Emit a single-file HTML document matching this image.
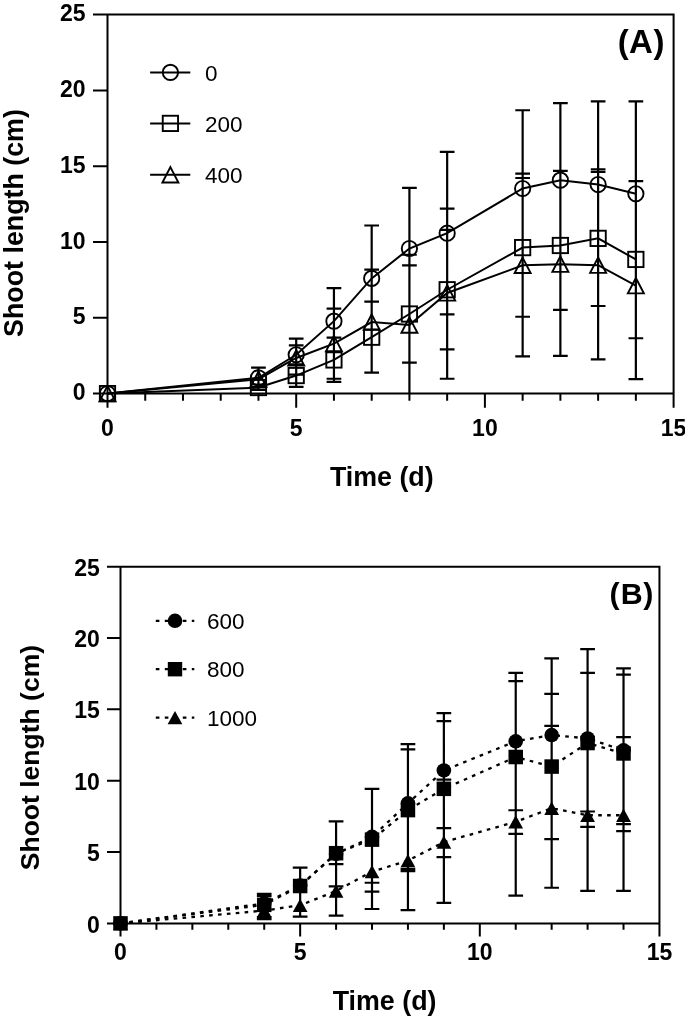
<!DOCTYPE html>
<html><head><meta charset="utf-8"><style>
html,body{margin:0;padding:0;background:#fff;}
body{width:685px;height:1020px;overflow:hidden;}
svg{display:block;filter:grayscale(1);}
text{font-family:"Liberation Sans",sans-serif;fill:#000;}
.tk{font-size:23px;font-weight:bold;}
.lg{font-size:22.5px;}
.ti{font-size:26.8px;font-weight:bold;}
.pl{font-size:33px;font-weight:bold;}
</style></head><body>
<svg width="685" height="1020" viewBox="0 0 685 1020">
<path d="M93,14.6H674.6M107.5,13.6V407.8M93,393.6H673.6M673.6,13.6V407.8M93,317.8H107.5M93,242H107.5M93,166.2H107.5M93,90.4H107.5M145.24,393.6v7.2M182.98,393.6v7.2M220.72,393.6v7.2M258.46,393.6v7.2M296.2,393.6v14.2M333.94,393.6v7.2M371.68,393.6v7.2M409.42,393.6v7.2M447.16,393.6v7.2M484.9,393.6v14.2M522.64,393.6v7.2M560.38,393.6v7.2M598.12,393.6v7.2M635.86,393.6v7.2" stroke="#000" stroke-width="2.0" fill="none"/>
<path d="M258.46,367.68V389.81M251.11,367.68h14.7M251.11,384.5h14.7M251.11,387.23h14.7M251.11,389.81h14.7M296.2,338.57V386.78M288.85,338.57h14.7M288.85,345.39h14.7M288.85,364.34h14.7M288.85,374.65h14.7M288.85,386.78h14.7M333.94,288.09V381.93M326.59,288.09h14.7M326.59,308.7h14.7M326.59,337.66h14.7M326.59,378.74h14.7M326.59,381.93h14.7M371.68,225.48V372.53M364.33,225.48h14.7M364.33,269.59h14.7M364.33,301.58h14.7M364.33,372.53h14.7M409.42,187.88V393.6M402.07,187.88h14.7M402.07,254.73h14.7M402.07,265.35h14.7M402.07,362.67h14.7M447.16,151.95V378.74M439.81,151.95h14.7M439.81,208.65h14.7M439.81,229.87h14.7M439.81,314.46h14.7M439.81,349.33h14.7M439.81,378.74h14.7M522.64,110.26V356.46M515.29,110.26h14.7M515.29,173.63h14.7M515.29,178.02h14.7M515.29,316.74h14.7M515.29,356.46h14.7M560.38,103.13V355.85M553.03,103.13h14.7M553.03,170.9h14.7M553.03,309.92h14.7M553.03,355.85h14.7M598.12,101.32V359.34M590.77,101.32h14.7M590.77,169.23h14.7M590.77,171.96h14.7M590.77,305.98h14.7M590.77,359.34h14.7M635.86,101.32V379.05M628.51,101.32h14.7M628.51,181.21h14.7M628.51,338.27h14.7M628.51,379.05h14.7" stroke="#000" stroke-width="2.2" fill="none"/>
<polyline points="107.5,393.6 258.46,377.83 296.2,354.79 333.94,321.14 371.68,278.38 409.42,248.52 447.16,233.21 522.64,188.49 560.38,180.15 598.12,184.54 635.86,193.79" stroke="#000" stroke-width="2.0" fill="none"/>
<polyline points="107.5,393.6 258.46,387.54 296.2,375.56 333.94,359.94 371.68,337.2 409.42,314.01 447.16,289.75 522.64,247.61 560.38,245.49 598.12,238.36 635.86,259.43" stroke="#000" stroke-width="2.0" fill="none"/>
<polyline points="107.5,393.6 258.46,379.2 296.2,357.97 333.94,343.57 371.68,322.04 409.42,325.08 447.16,292.94 522.64,265.35 560.38,264.13 598.12,265.19 635.86,285.66" stroke="#000" stroke-width="2.0" fill="none"/>
<circle cx="107.5" cy="393.6" r="7.65" fill="none" stroke="#000" stroke-width="1.9"/>
<circle cx="258.46" cy="377.83" r="7.65" fill="none" stroke="#000" stroke-width="1.9"/>
<circle cx="296.2" cy="354.79" r="7.65" fill="none" stroke="#000" stroke-width="1.9"/>
<circle cx="333.94" cy="321.14" r="7.65" fill="none" stroke="#000" stroke-width="1.9"/>
<circle cx="371.68" cy="278.38" r="7.65" fill="none" stroke="#000" stroke-width="1.9"/>
<circle cx="409.42" cy="248.52" r="7.65" fill="none" stroke="#000" stroke-width="1.9"/>
<circle cx="447.16" cy="233.21" r="7.65" fill="none" stroke="#000" stroke-width="1.9"/>
<circle cx="522.64" cy="188.49" r="7.65" fill="none" stroke="#000" stroke-width="1.9"/>
<circle cx="560.38" cy="180.15" r="7.65" fill="none" stroke="#000" stroke-width="1.9"/>
<circle cx="598.12" cy="184.54" r="7.65" fill="none" stroke="#000" stroke-width="1.9"/>
<circle cx="635.86" cy="193.79" r="7.65" fill="none" stroke="#000" stroke-width="1.9"/>
<rect x="99.85" y="385.95" width="15.3" height="15.3" fill="none" stroke="#000" stroke-width="1.9"/>
<rect x="250.81" y="379.89" width="15.3" height="15.3" fill="none" stroke="#000" stroke-width="1.9"/>
<rect x="288.55" y="367.91" width="15.3" height="15.3" fill="none" stroke="#000" stroke-width="1.9"/>
<rect x="326.29" y="352.29" width="15.3" height="15.3" fill="none" stroke="#000" stroke-width="1.9"/>
<rect x="364.03" y="329.55" width="15.3" height="15.3" fill="none" stroke="#000" stroke-width="1.9"/>
<rect x="401.77" y="306.36" width="15.3" height="15.3" fill="none" stroke="#000" stroke-width="1.9"/>
<rect x="439.51" y="282.1" width="15.3" height="15.3" fill="none" stroke="#000" stroke-width="1.9"/>
<rect x="514.99" y="239.96" width="15.3" height="15.3" fill="none" stroke="#000" stroke-width="1.9"/>
<rect x="552.73" y="237.84" width="15.3" height="15.3" fill="none" stroke="#000" stroke-width="1.9"/>
<rect x="590.47" y="230.71" width="15.3" height="15.3" fill="none" stroke="#000" stroke-width="1.9"/>
<rect x="628.21" y="251.78" width="15.3" height="15.3" fill="none" stroke="#000" stroke-width="1.9"/>
<path d="M107.5,385.9L115.5,401.3L99.5,401.3Z" fill="none" stroke="#000" stroke-width="1.9" stroke-linejoin="miter"/>
<path d="M258.46,371.5L266.46,386.9L250.46,386.9Z" fill="none" stroke="#000" stroke-width="1.9" stroke-linejoin="miter"/>
<path d="M296.2,350.27L304.2,365.67L288.2,365.67Z" fill="none" stroke="#000" stroke-width="1.9" stroke-linejoin="miter"/>
<path d="M333.94,335.87L341.94,351.27L325.94,351.27Z" fill="none" stroke="#000" stroke-width="1.9" stroke-linejoin="miter"/>
<path d="M371.68,314.34L379.68,329.74L363.68,329.74Z" fill="none" stroke="#000" stroke-width="1.9" stroke-linejoin="miter"/>
<path d="M409.42,317.38L417.42,332.78L401.42,332.78Z" fill="none" stroke="#000" stroke-width="1.9" stroke-linejoin="miter"/>
<path d="M447.16,285.24L455.16,300.64L439.16,300.64Z" fill="none" stroke="#000" stroke-width="1.9" stroke-linejoin="miter"/>
<path d="M522.64,257.65L530.64,273.05L514.64,273.05Z" fill="none" stroke="#000" stroke-width="1.9" stroke-linejoin="miter"/>
<path d="M560.38,256.43L568.38,271.83L552.38,271.83Z" fill="none" stroke="#000" stroke-width="1.9" stroke-linejoin="miter"/>
<path d="M598.12,257.49L606.12,272.89L590.12,272.89Z" fill="none" stroke="#000" stroke-width="1.9" stroke-linejoin="miter"/>
<path d="M635.86,277.96L643.86,293.36L627.86,293.36Z" fill="none" stroke="#000" stroke-width="1.9" stroke-linejoin="miter"/>
<path d="M107,566.65H660.45M120.5,565.65V936.4M107,923.4H659.45M659.45,565.65V936.4M107,852.05H120.5M107,780.7H120.5M107,709.35H120.5M107,638H120.5M156.43,923.4v6.3M192.36,923.4v6.3M228.29,923.4v6.3M264.22,923.4v6.3M300.15,923.4v13M336.08,923.4v6.3M372.01,923.4v6.3M407.94,923.4v6.3M443.87,923.4v6.3M479.8,923.4v13M515.73,923.4v6.3M551.66,923.4v6.3M587.59,923.4v6.3M623.52,923.4v6.3" stroke="#000" stroke-width="2.0" fill="none"/>
<path d="M264.22,893.86V919.12M256.87,893.86h14.7M256.87,895.86h14.7M256.87,916.98h14.7M256.87,919.12h14.7M300.15,867.6V916.69M292.8,867.6h14.7M292.8,916.69h14.7M336.08,821.37V915.55M328.73,821.37h14.7M328.73,864.04h14.7M328.73,886.3h14.7M328.73,915.55h14.7M372.01,788.83V908.99M364.66,788.83h14.7M364.66,882.73h14.7M364.66,891.72h14.7M364.66,908.99h14.7M407.94,744.03V910.13M400.59,744.03h14.7M400.59,749.31h14.7M400.59,868.89h14.7M400.59,871.17h14.7M400.59,910.13h14.7M443.87,713.06V902.85M436.52,713.06h14.7M436.52,721.19h14.7M436.52,779.56h14.7M436.52,828.08h14.7M436.52,857.19h14.7M436.52,902.85h14.7M515.73,672.96V895.57M508.38,672.96h14.7M508.38,681.1h14.7M508.38,810.24h14.7M508.38,833.93h14.7M508.38,895.57h14.7M551.66,658.41V887.73M544.31,658.41h14.7M544.31,693.94h14.7M544.31,725.9h14.7M544.31,839.06h14.7M544.31,887.73h14.7M587.59,649.13V890.86M580.24,649.13h14.7M580.24,672.82h14.7M580.24,811.52h14.7M580.24,826.79h14.7M580.24,890.86h14.7M623.52,668.4V890.86M616.17,668.4h14.7M616.17,674.67h14.7M616.17,737.18h14.7M616.17,824.08h14.7M616.17,831.22h14.7M616.17,890.86h14.7" stroke="#000" stroke-width="2.2" fill="none"/>
<polyline points="120.5,923.4 264.22,903.42 300.15,885.58 336.08,853.91 372.01,836.92 407.94,803.39 443.87,770.43 515.73,741.31 551.66,735.04 587.59,738.46 623.52,750.3" stroke="#000" stroke-width="2.3" fill="none" stroke-dasharray="3.6 5.3"/>
<polyline points="120.5,923.4 264.22,904.85 300.15,886.01 336.08,853.19 372.01,839.64 407.94,810.1 443.87,788.83 515.73,757.01 551.66,766.57 587.59,743.03 623.52,753.44" stroke="#000" stroke-width="2.3" fill="none" stroke-dasharray="3.6 5.3"/>
<polyline points="120.5,923.4 264.22,910.56 300.15,905.28 336.08,891.01 372.01,871.6 407.94,860.61 443.87,842.06 515.73,821.8 551.66,808.24 587.59,815.23 623.52,815.23" stroke="#000" stroke-width="2.3" fill="none" stroke-dasharray="3.6 5.3"/>
<circle cx="120.5" cy="923.4" r="7.3" fill="#000"/>
<circle cx="264.22" cy="903.42" r="7.3" fill="#000"/>
<circle cx="300.15" cy="885.58" r="7.3" fill="#000"/>
<circle cx="336.08" cy="853.91" r="7.3" fill="#000"/>
<circle cx="372.01" cy="836.92" r="7.3" fill="#000"/>
<circle cx="407.94" cy="803.39" r="7.3" fill="#000"/>
<circle cx="443.87" cy="770.43" r="7.3" fill="#000"/>
<circle cx="515.73" cy="741.31" r="7.3" fill="#000"/>
<circle cx="551.66" cy="735.04" r="7.3" fill="#000"/>
<circle cx="587.59" cy="738.46" r="7.3" fill="#000"/>
<circle cx="623.52" cy="750.3" r="7.3" fill="#000"/>
<rect x="113.25" y="916.15" width="14.5" height="14.5" fill="#000"/>
<rect x="256.97" y="897.6" width="14.5" height="14.5" fill="#000"/>
<rect x="292.9" y="878.76" width="14.5" height="14.5" fill="#000"/>
<rect x="328.83" y="845.94" width="14.5" height="14.5" fill="#000"/>
<rect x="364.76" y="832.39" width="14.5" height="14.5" fill="#000"/>
<rect x="400.69" y="802.85" width="14.5" height="14.5" fill="#000"/>
<rect x="436.62" y="781.58" width="14.5" height="14.5" fill="#000"/>
<rect x="508.48" y="749.76" width="14.5" height="14.5" fill="#000"/>
<rect x="544.41" y="759.32" width="14.5" height="14.5" fill="#000"/>
<rect x="580.34" y="735.78" width="14.5" height="14.5" fill="#000"/>
<rect x="616.27" y="746.19" width="14.5" height="14.5" fill="#000"/>
<path d="M120.5,916.75L127.85,930.05L113.15,930.05Z" fill="#000"/>
<path d="M264.22,903.91L271.57,917.21L256.87,917.21Z" fill="#000"/>
<path d="M300.15,898.63L307.5,911.93L292.8,911.93Z" fill="#000"/>
<path d="M336.08,884.36L343.43,897.66L328.73,897.66Z" fill="#000"/>
<path d="M372.01,864.95L379.36,878.25L364.66,878.25Z" fill="#000"/>
<path d="M407.94,853.96L415.29,867.26L400.59,867.26Z" fill="#000"/>
<path d="M443.87,835.41L451.22,848.71L436.52,848.71Z" fill="#000"/>
<path d="M515.73,815.15L523.08,828.45L508.38,828.45Z" fill="#000"/>
<path d="M551.66,801.59L559.01,814.89L544.31,814.89Z" fill="#000"/>
<path d="M587.59,808.58L594.94,821.88L580.24,821.88Z" fill="#000"/>
<path d="M623.52,808.58L630.87,821.88L616.17,821.88Z" fill="#000"/>
<path d="M150.1,72.4H190.3" stroke="#000" stroke-width="2.0"/>
<circle cx="170.4" cy="72.4" r="7.65" fill="none" stroke="#000" stroke-width="1.9"/>
<text x="205" y="80.9" class="lg">0</text>
<path d="M150.1,123.4H190.3" stroke="#000" stroke-width="2.0"/>
<rect x="162.75" y="115.75" width="15.3" height="15.3" fill="none" stroke="#000" stroke-width="1.9"/>
<text x="205" y="131.9" class="lg">200</text>
<path d="M150.1,174.8H190.3" stroke="#000" stroke-width="2.0"/>
<path d="M170.4,167.1L178.4,182.5L162.4,182.5Z" fill="none" stroke="#000" stroke-width="1.9" stroke-linejoin="miter"/>
<text x="205" y="183.3" class="lg">400</text>
<path d="M155.8,620.8H194.3" stroke="#000" stroke-width="2.2" stroke-dasharray="3.6 5.4"/>
<circle cx="175" cy="620.8" r="7.3" fill="#000"/>
<text x="207" y="628.7" class="lg">600</text>
<path d="M155.8,669.2H194.3" stroke="#000" stroke-width="2.2" stroke-dasharray="3.6 5.4"/>
<rect x="167.8" y="662" width="14.4" height="14.4" fill="#000"/>
<text x="207" y="677.1" class="lg">800</text>
<path d="M155.8,717.6H194.3" stroke="#000" stroke-width="2.2" stroke-dasharray="3.6 5.4"/>
<path d="M175,710.95L182.35,724.25L167.65,724.25Z" fill="#000"/>
<text x="207" y="725.5" class="lg">1000</text>
<text x="85.6" y="400.1" class="tk" text-anchor="end">0</text>
<text x="99.8" y="932.5" class="tk" text-anchor="end">0</text>
<text x="85.6" y="324.3" class="tk" text-anchor="end">5</text>
<text x="99.8" y="861.15" class="tk" text-anchor="end">5</text>
<text x="85.6" y="248.5" class="tk" text-anchor="end">10</text>
<text x="99.8" y="789.8" class="tk" text-anchor="end">10</text>
<text x="85.6" y="172.7" class="tk" text-anchor="end">15</text>
<text x="99.8" y="718.45" class="tk" text-anchor="end">15</text>
<text x="85.6" y="96.9" class="tk" text-anchor="end">20</text>
<text x="99.8" y="647.1" class="tk" text-anchor="end">20</text>
<text x="85.6" y="21.1" class="tk" text-anchor="end">25</text>
<text x="99.8" y="575.75" class="tk" text-anchor="end">25</text>
<text x="107.5" y="435.8" class="tk" text-anchor="middle">0</text>
<text x="120.5" y="960.3" class="tk" text-anchor="middle">0</text>
<text x="296.2" y="435.8" class="tk" text-anchor="middle">5</text>
<text x="300.15" y="960.3" class="tk" text-anchor="middle">5</text>
<text x="484.9" y="435.8" class="tk" text-anchor="middle">10</text>
<text x="479.8" y="960.3" class="tk" text-anchor="middle">10</text>
<text x="673.6" y="435.8" class="tk" text-anchor="middle">15</text>
<text x="659.45" y="960.3" class="tk" text-anchor="middle">15</text>
<text x="381.8" y="486" class="ti" text-anchor="middle">Time (d)</text>
<text x="384.6" y="1010.3" class="ti" text-anchor="middle">Time (d)</text>
<text transform="translate(22.9,223) rotate(-90)" class="ti" text-anchor="middle">Shoot length (cm)</text>
<text transform="translate(39.3,757.6) rotate(-90)" class="ti" style="font-size:26.5px" text-anchor="middle">Shoot length (cm)</text>
<text x="664.5" y="53.1" class="pl" text-anchor="end"><tspan>(</tspan><tspan dx="0.3">A</tspan><tspan dx="0.6">)</tspan></text>
<text x="653.4" y="604.3" class="pl" style="font-size:30.4px" text-anchor="end"><tspan>(</tspan><tspan dx="1.2">B</tspan><tspan dx="0.6">)</tspan></text>
</svg>
</body></html>
